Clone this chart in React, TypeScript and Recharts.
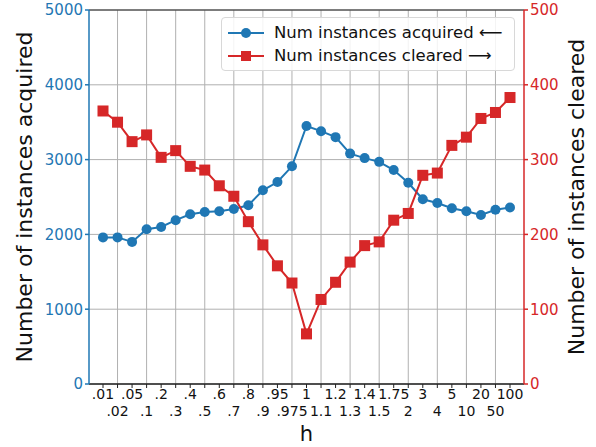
import { LineChart, Line, XAxis, YAxis, CartesianGrid, ReferenceLine } from "recharts"

const hLabels = [
    ".01", ".02", ".05", ".1", ".2", ".3", ".4", ".5", ".6", ".7", ".8", ".9", ".95", ".975", "1",
    "1.1", "1.2", "1.3", "1.4", "1.5", "1.75", "2", "3", "4", "5", "10", "20", "50", "100",
]

const acquired = [
    1960, 1960, 1900, 2070, 2100, 2190, 2270, 2300, 2310, 2340, 2390, 2590, 2700, 2910, 3450,
    3380, 3300, 3080, 3020, 2970, 2860, 2690, 2470, 2420, 2350, 2310, 2260, 2330, 2360,
]

const cleared = [
    365, 350, 324, 333, 303, 312, 291, 286, 265, 251, 217, 186, 158, 135, 67,
    113, 136, 163, 185, 190, 219, 228, 279, 282, 319, 330, 355, 363, 383,
]

const leftTicks = [0, 1000, 2000, 3000, 4000, 5000]
const rightTicks = [0, 100, 200, 300, 400, 500]

const BLUE = "#1f77b4"
const RED = "#d62728"
const GRID = "#b0b0b0"
const FONT = "DejaVu Sans, sans-serif"

const data = hLabels.map((h, i) => ({ h, acquired: acquired[i], cleared: cleared[i] }))

// matplotlib-style staggered labels: even ticks on the first row, odd on the second
function HTick(props: any) {
    const { x, y, payload, index } = props
    const i = payload?.index ?? index
    const dy = i % 2 === 0 ? 15 : 32
    return (
        <g>
            <line x1={x} x2={x} y1={y - 8} y2={y - 4} stroke="#222" strokeWidth={1} />
            <text x={x} y={y + dy - 8} textAnchor="middle" fontSize={14} fill="#111" fontFamily={FONT}>
                {payload.value}
            </text>
        </g>
    )
}

function SquareDot(props: any) {
    const { cx, cy } = props
    if (cx == null || cy == null) return null
    return <rect x={cx - 5.5} y={cy - 5.5} width={11} height={11} fill={RED} />
}

function LegendBox() {
    const rows = [
        { label: "Num instances acquired \u27F5", color: BLUE, square: false },
        { label: "Num instances cleared \u27F6", color: RED, square: true },
    ]
    return (
        <div
            style={{
                position: "absolute",
                left: 221,
                top: 17,
                width: 294,
                height: 54,
                boxSizing: "border-box",
                border: "1px solid #d8d8d8",
                borderRadius: 4,
                background: "rgba(255,255,255,0.85)",
                padding: "3px 6px",
                fontFamily: FONT,
                fontSize: 16.5,
                color: "#111",
            }}
        >
            {rows.map((r) => (
                <div key={r.label} style={{ display: "flex", alignItems: "center", height: 23, whiteSpace: "nowrap" }}>
                    <svg width={36} height={14} style={{ marginRight: 10 }}>
                        <line x1={0} x2={36} y1={7} y2={7} stroke={r.color} strokeWidth={2} />
                        {r.square ? (
                            <rect x={13} y={2} width={10} height={10} fill={r.color} />
                        ) : (
                            <circle cx={18} cy={7} r={5} fill={r.color} />
                        )}
                    </svg>
                    <span>{r.label}</span>
                </div>
            ))}
        </div>
    )
}

function axisTitle(text: string, dx: number) {
    return ({ viewBox }: any) => {
        const cx = viewBox.x + dx
        const cy = viewBox.y + viewBox.height / 2
        return (
            <text x={cx} y={cy} transform={`rotate(-90, ${cx}, ${cy})`} textAnchor="middle"
                dominantBaseline="central" fontSize={22} fill="#111" fontFamily={FONT}>
                {text}
            </text>
        )
    }
}

export default function App() {
    return (
        <div style={{ position: "absolute", left: 0, top: 0, width: 596, height: 447, background: "#fff" }}>
            <LineChart width={596} height={447} data={data} margin={{ top: 10, right: 0, bottom: 0, left: 0 }}>
                <CartesianGrid yAxisId="left" vertical={false} stroke={GRID} strokeWidth={1} />
                {hLabels.filter((_, i) => i % 2 === 1).map((h) => (
                    <ReferenceLine key={h} x={h} yAxisId="left" stroke={GRID} strokeWidth={1} />
                ))}
                <ReferenceLine y={5000} yAxisId="left" stroke="#222" strokeWidth={1.2} />
                <XAxis
                    dataKey="h"
                    height={63}
                    padding={{ left: 14, right: 14 }}
                    interval={0}
                    tickLine={false}
                    stroke="#222"
                    strokeWidth={1.5}
                    tick={<HTick />}
                    label={{
                        content: ({ viewBox }: any) => (
                            <text x={viewBox.x + viewBox.width / 2} y={viewBox.y + 57} textAnchor="middle"
                                fontSize={21} fill="#111" fontFamily={FONT}>h</text>
                        ),
                    }}
                />
                <YAxis
                    yAxisId="left"
                    orientation="left"
                    width={89}
                    domain={[0, 5000]}
                    ticks={leftTicks}
                    stroke={BLUE}
                    strokeWidth={1.5}
                    tickSize={4}
                    tick={{ fill: BLUE, fontSize: 15, fontFamily: FONT }}
                    label={{ content: axisTitle("Number of instances acquired", 24) }}
                />
                <YAxis
                    yAxisId="right"
                    orientation="right"
                    width={72}
                    domain={[0, 500]}
                    ticks={rightTicks}
                    stroke={RED}
                    strokeWidth={1.5}
                    tickSize={4}
                    tick={{ fill: RED, fontSize: 15, fontFamily: FONT }}
                    label={{ content: axisTitle("Number of instances cleared", 52) }}
                />
                <Line
                    yAxisId="left"
                    dataKey="acquired"
                    stroke={BLUE}
                    strokeWidth={2}
                    dot={{ r: 5, fill: BLUE, stroke: BLUE, strokeWidth: 0 }}
                    activeDot={false}
                    isAnimationActive={false}
                />
                <Line
                    yAxisId="right"
                    dataKey="cleared"
                    stroke={RED}
                    strokeWidth={2}
                    dot={<SquareDot />}
                    activeDot={false}
                    isAnimationActive={false}
                />
            </LineChart>
            <LegendBox />
        </div>
    )
}
